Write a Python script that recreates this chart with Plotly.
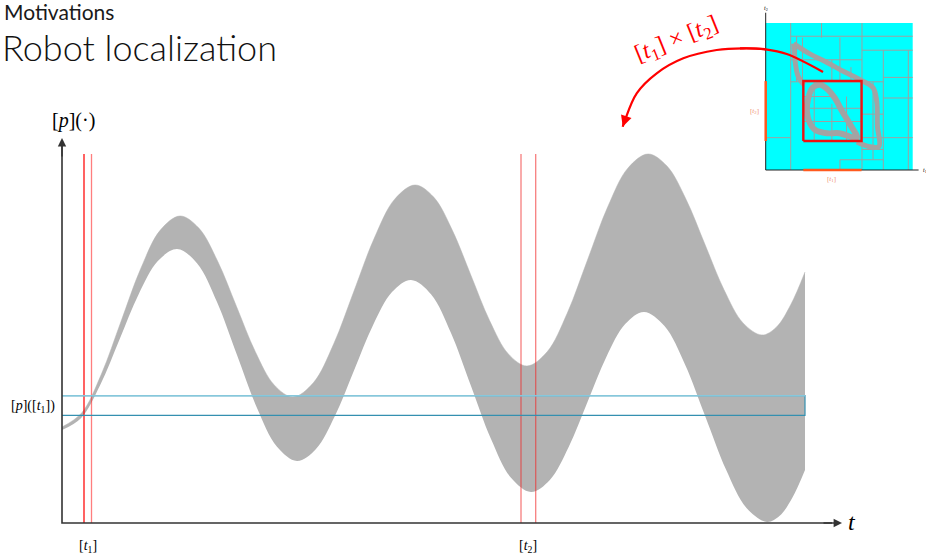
import plotly.graph_objects as go

# ---------------- data (main chart) ----------------
# upper and lower bounds of the tube [p](t)
upper_t = [0, 1.967, 3.933, 5.9, 7.867, 9.833, 11.8, 13.683, 15.567, 17.45, 19.333, 21.217, 23.1,
           25.133, 27.167, 29.2, 31.233, 33.267, 35.3, 37.167, 39.033, 40.9, 42.767, 44.633, 46.5,
           48.517, 50.533, 52.55, 54.567, 56.583, 58.6, 60.5, 62.4, 64.3, 66.2, 68.1, 70.0,
           71.43, 72.87, 74.3]
upper_p = [9.6, 11.01, 14.875, 20.15, 25.425, 29.29, 30.7, 29.49, 26.175, 21.65, 17.125, 13.81, 12.6,
           14.02, 17.9, 23.2, 28.5, 32.38, 33.8, 32.59, 29.275, 24.75, 20.225, 16.91, 15.7,
           17.12, 21.0, 26.3, 31.6, 35.48, 36.9, 35.69, 32.375, 27.85, 23.325, 20.01, 18.8,
           19.58, 21.82, 25.1]
lower_t = [0, 1.917, 3.833, 5.75, 7.667, 9.583, 11.5, 13.5, 15.5, 17.5, 19.5, 21.5, 23.5,
           25.4, 27.3, 29.2, 31.1, 33.0, 34.9, 36.9, 38.9, 40.9, 42.9, 44.9, 46.9,
           48.783, 50.667, 52.55, 54.433, 56.317, 58.2, 60.25, 62.3, 64.35, 66.4, 68.45, 70.5,
           71.767, 73.033, 74.3]
lower_p = [9.3, 10.51, 13.825, 18.35, 22.875, 26.19, 27.4, 25.98, 22.1, 16.8, 11.5, 7.62, 6.2,
           7.41, 10.725, 15.25, 19.775, 23.09, 24.3, 22.88, 19.0, 13.7, 8.4, 4.52, 3.1,
           4.306, 7.6, 12.1, 16.6, 19.89, 21.1, 19.69, 15.85, 10.6, 5.35, 1.51, 0.1,
           0.72, 2.53, 5.3]

t1_bounds = [2.2, 2.95]
t2_bounds = [45.9, 47.37]
p_t1_bounds = [10.77, 12.73]
t_end = 74.3
line_top = 36.9

# curved arrow (main chart units)
arc_t = [76.07, 72.47, 70.37, 68.13, 65.47, 62.13, 59.47, 57.47, 56.3, 56.07]
arc_p = [45.03, 46.9, 47.37, 47.47, 47.3, 46.47, 44.97, 42.97, 40.3, 39.63]
# same arrow where it passes over the inset (inset units)
arc_inset_u = [0.39, 0.143, 0.0, -0.152, -0.333]
arc_inset_v = [0.667, 0.789, 0.821, 0.828, 0.816]

# ---------------- data (inset: subpaving of [t1]x[t2]) ----------------
grid_v = [(0.17, 0.0, 1.0), (0.38, 0.9, 1.0), (0.655, 0.0, 1.0), (0.80, 0.0, 0.815),
          (0.97, 0.0, 0.815), (0.505, 0.0, 0.07), (0.505, 0.6, 0.9), (0.25, 0.6, 0.9),
          (0.21, 0.6, 0.91), (0.45, 0.6, 0.75), (0.58, 0.6, 0.7), (0.73, 0.07, 0.6),
          (0.33, 0.2, 0.6), (0.45, 0.2, 0.45), (0.55, 0.2, 0.5)]
grid_h = [(0.91, 0.17, 1.0), (0.815, 0.655, 1.0), (0.63, 0.80, 1.0), (0.49, 0.80, 1.0),
          (0.22, 0.0, 0.17), (0.22, 0.655, 1.0), (0.07, 0.505, 0.80), (0.6, 0.17, 0.8),
          (0.75, 0.17, 0.655), (0.42, 0.256, 0.655), (0.33, 0.256, 0.655), (0.14, 0.655, 0.80),
          (0.38, 0.655, 0.80), (0.50, 0.256, 0.45)]
loop_outer_u = [0.19, 0.30, 0.42, 0.53, 0.65, 0.73, 0.755, 0.76, 0.77, 0.70, 0.62]
loop_outer_v = [0.86, 0.79, 0.73, 0.67, 0.61, 0.56, 0.47, 0.30, 0.16, 0.16, 0.19]
loop_left_u = [0.19, 0.20, 0.22, 0.26]
loop_left_v = [0.86, 0.74, 0.64, 0.58]
loop_inner_u = [0.62, 0.58, 0.52, 0.47, 0.42, 0.37, 0.32, 0.29, 0.28, 0.30, 0.34, 0.42, 0.50, 0.62]
loop_inner_v = [0.22, 0.30, 0.40, 0.49, 0.55, 0.58, 0.56, 0.49, 0.40, 0.32, 0.27, 0.25, 0.25, 0.22]
red_box_u = [0.256, 0.652]
red_box_v = [0.197, 0.605]

fig = go.Figure()

# tube
fig.add_trace(go.Scatter(x=lower_t, y=lower_p, mode="lines", line=dict(width=0, shape="spline", color="#b3b3b3"),
                         showlegend=False, hoverinfo="skip"))
fig.add_trace(go.Scatter(x=upper_t, y=upper_p, mode="lines", line=dict(width=0.5, shape="spline", color="#b3b3b3"),
                         fill="tonexty", fillcolor="#b3b3b3", showlegend=False, hoverinfo="skip"))

# red vertical lines for [t1] and [t2]
for bounds, cols in ((t1_bounds, ["rgba(255,0,0,0.95)", "rgba(255,40,40,0.6)"]),
                     (t2_bounds, ["rgba(240,40,40,0.6)", "rgba(240,40,40,0.6)"])):
    for tv, col in zip(bounds, cols):
        fig.add_trace(go.Scatter(x=[tv, tv], y=[0, line_top], mode="lines",
                                 line=dict(color=col, width=1.3), showlegend=False, hoverinfo="skip"))

# box [p]([t1]) x time
fig.add_trace(go.Scatter(x=[0, t_end, t_end, 0], y=[p_t1_bounds[1], p_t1_bounds[1], p_t1_bounds[0], p_t1_bounds[0]],
                         mode="lines", line=dict(color="#3490b0", width=1.2), showlegend=False, hoverinfo="skip"))
fig.add_trace(go.Scatter(x=[0, t_end], y=[p_t1_bounds[1], p_t1_bounds[1]],
                         mode="lines", line=dict(color="#86c8dc", width=1.4), showlegend=False, hoverinfo="skip"))

# axes lines
fig.add_trace(go.Scatter(x=[0, 0, 77.0], y=[38.0, 0, 0], mode="lines",
                         line=dict(color="#333333", width=1.6), showlegend=False, hoverinfo="skip"))
fig.add_annotation(x=0, y=38.5, ax=0, ay=36.5, xref="x", yref="y", axref="x", ayref="y", text="",
                   showarrow=True, arrowhead=2, arrowsize=1.2, arrowwidth=1.4, arrowcolor="#333333")
fig.add_annotation(x=78.0, y=0, ax=76.0, ay=0, xref="x", yref="y", axref="x", ayref="y", text="",
                   showarrow=True, arrowhead=2, arrowsize=1.2, arrowwidth=1.4, arrowcolor="#333333")

# curved arrow
fig.add_trace(go.Scatter(x=arc_t, y=arc_p, mode="lines", line=dict(color="#ff0000", width=2.2, shape="spline"),
                         showlegend=False, hoverinfo="skip"))
fig.add_annotation(x=arc_t[-1], y=arc_p[-1], ax=arc_t[-2], ay=arc_p[-2], xref="x", yref="y", axref="x", ayref="y",
                   text="", showarrow=True, arrowhead=2, arrowsize=1.0, arrowwidth=2.2, arrowcolor="#ff0000")

# ---------------- inset ----------------
fig.add_trace(go.Scatter(x=[0, 1, 1, 0, 0], y=[0, 0, 1, 1, 0], mode="lines", fill="toself", fillcolor="#00ffff",
                         line=dict(width=0), xaxis="x2", yaxis="y2", showlegend=False, hoverinfo="skip"))
for (u, v0, v1) in grid_v:
    fig.add_trace(go.Scatter(x=[u, u], y=[v0, v1], mode="lines", line=dict(color="#a0a0a0", width=1),
                             xaxis="x2", yaxis="y2", showlegend=False, hoverinfo="skip"))
for (v, u0, u1) in grid_h:
    fig.add_trace(go.Scatter(x=[u0, u1], y=[v, v], mode="lines", line=dict(color="#a0a0a0", width=1),
                             xaxis="x2", yaxis="y2", showlegend=False, hoverinfo="skip"))
for (lu, lv, w) in ((loop_outer_u, loop_outer_v, 5), (loop_left_u, loop_left_v, 5), (loop_inner_u, loop_inner_v, 6)):
    fig.add_trace(go.Scatter(x=lu, y=lv, mode="lines", line=dict(color="#a3a3a3", width=w, shape="spline"),
                             xaxis="x2", yaxis="y2", showlegend=False, hoverinfo="skip"))
fig.add_trace(go.Scatter(x=[red_box_u[0], red_box_u[1], red_box_u[1], red_box_u[0], red_box_u[0]],
                         y=[red_box_v[0], red_box_v[0], red_box_v[1], red_box_v[1], red_box_v[0]],
                         mode="lines", line=dict(color="#ee1111", width=2.4),
                         xaxis="x2", yaxis="y2", showlegend=False, hoverinfo="skip"))
fig.add_trace(go.Scatter(x=[0, 0, 1.04], y=[1.07, 0, 0], mode="lines", line=dict(color="#222222", width=1),
                         xaxis="x2", yaxis="y2", showlegend=False, hoverinfo="skip"))
fig.add_trace(go.Scatter(x=red_box_u, y=[0, 0], mode="lines", line=dict(color="#ff5a1e", width=2.5),
                         xaxis="x2", yaxis="y2", showlegend=False, hoverinfo="skip"))
fig.add_trace(go.Scatter(x=[0, 0], y=red_box_v, mode="lines", line=dict(color="#ff5a1e", width=2.5),
                         xaxis="x2", yaxis="y2", showlegend=False, hoverinfo="skip"))
# part of the red arrow lying over the inset
fig.add_trace(go.Scatter(x=arc_inset_u, y=arc_inset_v, mode="lines", line=dict(color="#ff0000", width=2.2, shape="spline"),
                         xaxis="x2", yaxis="y2", showlegend=False, hoverinfo="skip"))

serif = "Liberation Serif"
sans = "Lato"

ann = [
    dict(x=0.002, y=1.006, xref="paper", yref="paper", xanchor="left", yanchor="top",
         text="Motivations", font=dict(family=sans, size=21, color="#1a1a1a")),
    dict(x=0.0, y=0.959, xref="paper", yref="paper", xanchor="left", yanchor="top",
         text="Robot localization", font=dict(family=sans, size=36, color="#111111", weight=300)),
    dict(x=1.1, y=40.3, xref="x", yref="y", text="[<i>p</i>](·)", font=dict(family=serif, size=20, color="black")),
    dict(x=-0.5, y=11.7, xref="x", yref="y", xanchor="right", text="[<i>p</i>]([<i>t</i><sub>1</sub>])",
         font=dict(family=serif, size=14, color="black")),
    dict(x=2.6, y=-2.3, xref="x", yref="y", text="[<i>t</i><sub>1</sub>]", font=dict(family=serif, size=14, color="black")),
    dict(x=46.6, y=-2.3, xref="x", yref="y", text="[<i>t</i><sub>2</sub>]", font=dict(family=serif, size=14, color="black")),
    dict(x=79.0, y=0.1, xref="x", yref="y", text="<i>t</i>", font=dict(family=serif, size=24, color="black")),
    dict(x=61.5, y=48.3, xref="x", yref="y", text="[<i>t</i><sub>1</sub>] × [<i>t</i><sub>2</sub>]",
         textangle=-22, font=dict(family=serif, size=24, color="#ff0000")),
    dict(x=0.0, y=1.1, xref="x2", yref="y2", text="<i>t</i><sub>2</sub>", font=dict(family=serif, size=6, color="black")),
    dict(x=1.085, y=0.0, xref="x2", yref="y2", text="<i>t</i><sub>1</sub>", font=dict(family=serif, size=6, color="black")),
    dict(x=0.45, y=-0.06, xref="x2", yref="y2", text="[<i>t</i><sub>1</sub>]", font=dict(family=serif, size=7, color="#f09070")),
    dict(x=-0.075, y=0.40, xref="x2", yref="y2", text="[<i>t</i><sub>2</sub>]", font=dict(family=serif, size=7, color="#f09070")),
]
for a in ann:
    a.setdefault("showarrow", False)
    fig.add_annotation(**a)

hidden = dict(showgrid=False, zeroline=False, showticklabels=False, ticks="", showline=False, fixedrange=True)
fig.update_layout(
    width=926, height=554,
    margin=dict(l=0, r=0, t=0, b=0),
    paper_bgcolor="white", plot_bgcolor="rgba(0,0,0,0)",
    showlegend=False, hovermode=False,
    xaxis=dict(range=[-6.2, 86.4], domain=[0, 1], **hidden),
    yaxis=dict(range=[-3.1, 52.3], domain=[0, 1], **hidden),
    xaxis2=dict(range=[-0.1748, 1.0905], domain=[740 / 926, 1], anchor="y2", **hidden),
    yaxis2=dict(range=[-0.136, 1.1565], domain=[1 - 190 / 554, 1], anchor="x2", **hidden),
)

fig.write_html("out.html", config={"displayModeBar": False},
               post_script="document.body.style.margin='0';document.body.style.padding='0';"
                           "document.body.style.overflow='hidden';")
